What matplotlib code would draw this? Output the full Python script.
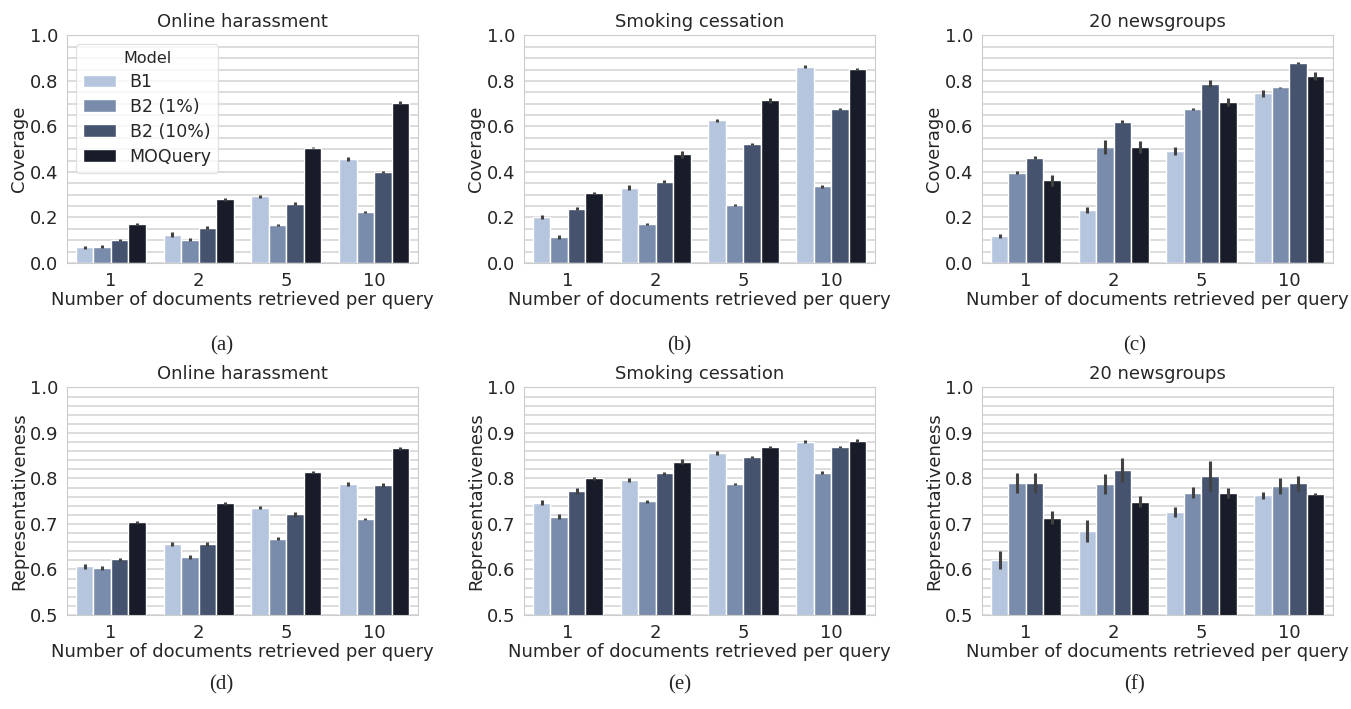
import numpy as np
import matplotlib.pyplot as plt
import seaborn as sns
from matplotlib.ticker import MultipleLocator

sns.set_style("whitegrid")
plt.rcParams["font.family"] = ["DejaVu Sans"]

# ── datos ─────────────────────────────────────────────────────────
modelos = ["B1", "B2 (1%)", "B2 (10%)", "MOQuery"]
k_docs = ["1", "2", "5", "10"]
colores = ["#b6c5de", "#7a8cab", "#45536f", "#171c28"]

titulos = ["Online harassment", "Smoking cessation", "20 newsgroups"]
subfig = ["(a)", "(b)", "(c)", "(d)", "(e)", "(f)"]

# cobertura: filas = modelo, columnas = k
cov_acoso = [[0.068, 0.125, 0.293, 0.458],
             [0.072, 0.103, 0.167, 0.225],
             [0.101, 0.155, 0.261, 0.399],
             [0.171, 0.280, 0.507, 0.705]]
cov_acoso_err = [[0.005, 0.010, 0.006, 0.008],
                 [0.005, 0.005, 0.005, 0.005],
                 [0.004, 0.007, 0.006, 0.004],
                 [0.005, 0.007, 0.004, 0.007]]

cov_tabaco = [[0.203, 0.331, 0.627, 0.863],
              [0.115, 0.170, 0.253, 0.336],
              [0.239, 0.357, 0.522, 0.678],
              [0.307, 0.478, 0.715, 0.852]]
cov_tabaco_err = [[0.008, 0.012, 0.007, 0.006],
                  [0.010, 0.005, 0.004, 0.005],
                  [0.006, 0.006, 0.005, 0.004],
                  [0.004, 0.015, 0.010, 0.005]]

cov_news = [[0.118, 0.231, 0.491, 0.746],
            [0.396, 0.510, 0.676, 0.771],
            [0.463, 0.621, 0.788, 0.879],
            [0.363, 0.510, 0.708, 0.820]]
cov_news_err = [[0.008, 0.013, 0.017, 0.015],
                [0.006, 0.030, 0.006, 0.004],
                [0.006, 0.008, 0.015, 0.006],
                [0.025, 0.025, 0.018, 0.018]]

rep_acoso = [[0.607, 0.656, 0.736, 0.788],
             [0.603, 0.627, 0.668, 0.711],
             [0.622, 0.656, 0.721, 0.786],
             [0.704, 0.745, 0.814, 0.866]]
rep_acoso_err = [[0.006, 0.004, 0.003, 0.004],
                 [0.004, 0.004, 0.004, 0.003],
                 [0.003, 0.005, 0.006, 0.005],
                 [0.003, 0.003, 0.003, 0.003]]

rep_tabaco = [[0.747, 0.797, 0.856, 0.881],
              [0.716, 0.750, 0.788, 0.813],
              [0.772, 0.811, 0.847, 0.869],
              [0.800, 0.837, 0.869, 0.883]]
rep_tabaco_err = [[0.005, 0.004, 0.004, 0.003],
                  [0.006, 0.003, 0.003, 0.003],
                  [0.006, 0.004, 0.003, 0.003],
                  [0.003, 0.006, 0.003, 0.003]]

rep_news = [[0.621, 0.684, 0.727, 0.763],
            [0.790, 0.787, 0.769, 0.783],
            [0.791, 0.819, 0.805, 0.789],
            [0.714, 0.749, 0.768, 0.766]]
rep_news_err = [[0.019, 0.024, 0.011, 0.008],
                [0.023, 0.022, 0.013, 0.017],
                [0.022, 0.026, 0.033, 0.016],
                [0.015, 0.012, 0.011, 0.003]]

paneles = [
    (cov_acoso, cov_acoso_err), (cov_tabaco, cov_tabaco_err), (cov_news, cov_news_err),
    (rep_acoso, rep_acoso_err), (rep_tabaco, rep_tabaco_err), (rep_news, rep_news_err),
]

# ── figura ────────────────────────────────────────────────────────
fig = plt.figure(figsize=(13.51, 7.09), dpi=100)

lefts = [0.0496, 0.3879, 0.7269]
bottoms = [0.6291, 0.1326]
ancho, alto = 0.2598, 0.3210
centros_x = [0.164, 0.503, 0.840]
caption_y = [0.512, 0.034]

x = np.arange(len(k_docs))
w = 0.2

for i, (vals, errs) in enumerate(paneles):
    fila, col = divmod(i, 3)
    ax = fig.add_axes([lefts[col], bottoms[fila], ancho, alto])
    vals = np.array(vals)
    errs = np.array(errs)
    for m, nombre in enumerate(modelos):
        pos = x - 0.3 + m * w
        ax.bar(pos, vals[m], width=w, color=colores[m], edgecolor="white",
               linewidth=1.0, label=nombre, zorder=2)
        ax.vlines(pos, vals[m] - errs[m], vals[m] + errs[m],
                  color="#424242", linewidth=2.2, zorder=3)

    if fila == 0:
        ax.set_ylim(0, 1.0)
        ax.yaxis.set_major_locator(MultipleLocator(0.2))
        ax.yaxis.set_minor_locator(MultipleLocator(0.05))
        ax.set_ylabel("Coverage", fontsize=13, color="#262626", labelpad=1)
    else:
        ax.set_ylim(0.5, 1.0)
        ax.yaxis.set_major_locator(MultipleLocator(0.1))
        ax.yaxis.set_minor_locator(MultipleLocator(0.02))
        ax.set_ylabel("Representativeness", fontsize=13, color="#262626", labelpad=1)

    ax.set_xlim(-0.5, 3.5)
    ax.set_xticks(x)
    ax.set_xticklabels(k_docs)
    ax.set_xlabel("Number of documents retrieved per query", fontsize=13,
                  color="#262626", labelpad=1)
    ax.set_title(titulos[col], fontsize=13, color="#262626", pad=6)
    ax.tick_params(axis="both", labelsize=13, colors="#262626", pad=3)
    ax.tick_params(axis="y", which="minor", length=0)
    ax.grid(axis="y", which="both", color="#dcdcdc", linewidth=1.4, zorder=0)
    ax.grid(axis="x", visible=False)
    ax.set_axisbelow(True)
    for s in ax.spines.values():
        s.set_color("#cccccc")

    if i == 0:
        leg = ax.legend(title="Model", loc="upper left", fontsize=12.5,
                        title_fontsize=11.5, frameon=True, borderaxespad=0.5,
                        handlelength=1.9, handleheight=0.75, handletextpad=0.8,
                        labelspacing=0.4)
        leg.get_frame().set_edgecolor("#dddddd")

    fig.text(centros_x[col], caption_y[fila], subfig[i], ha="center",
             va="center", fontsize=15, family="Liberation Serif")

fig.savefig("out.png", dpi=100)
